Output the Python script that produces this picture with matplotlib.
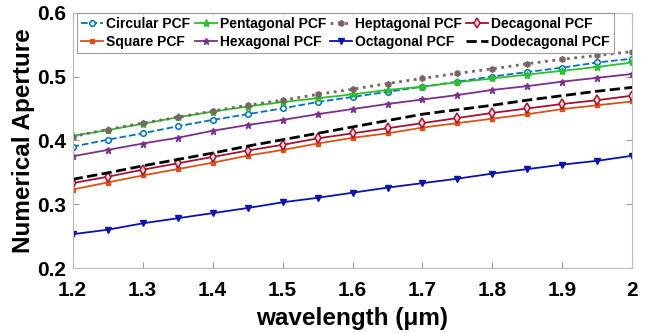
import matplotlib.pyplot as plt
import numpy as np

plt.rcParams["font.family"] = ["Liberation Sans", "DejaVu Sans"]
plt.rcParams["font.weight"] = "bold"

wavelength = np.round(np.arange(1.2, 2.0001, 0.05), 2)

circular = [0.390, 0.401, 0.411, 0.422, 0.432, 0.441, 0.450, 0.460, 0.468,
            0.476, 0.484, 0.492, 0.500, 0.507, 0.514, 0.522, 0.528]
square = [0.323, 0.334, 0.345, 0.355, 0.365, 0.376, 0.385, 0.395, 0.404,
          0.411, 0.420, 0.427, 0.434, 0.441, 0.449, 0.455, 0.461]
pentagonal = [0.407, 0.416, 0.426, 0.436, 0.445, 0.453, 0.460, 0.466, 0.472,
              0.479, 0.484, 0.491, 0.497, 0.503, 0.509, 0.515, 0.522]
hexagonal = [0.375, 0.385, 0.395, 0.404, 0.415, 0.424, 0.432, 0.441, 0.449,
             0.457, 0.464, 0.471, 0.479, 0.485, 0.492, 0.498, 0.504]
heptagonal = [0.406, 0.417, 0.427, 0.436, 0.446, 0.455, 0.463, 0.472, 0.480,
              0.489, 0.497, 0.505, 0.512, 0.520, 0.527, 0.533, 0.539]
octagonal = [0.253, 0.260, 0.270, 0.278, 0.286, 0.294, 0.303, 0.310, 0.318,
             0.326, 0.333, 0.340, 0.348, 0.355, 0.362, 0.368, 0.376]
decagonal = [0.333, 0.343, 0.354, 0.364, 0.374, 0.384, 0.393, 0.403, 0.411,
             0.419, 0.427, 0.435, 0.443, 0.450, 0.457, 0.463, 0.470]
dodecagonal = [0.339, 0.349, 0.360, 0.370, 0.380, 0.391, 0.401, 0.411, 0.421,
               0.431, 0.441, 0.448, 0.455, 0.463, 0.470, 0.477, 0.483]

fig = plt.figure(figsize=(6.48, 3.33), dpi=100)
ax = fig.add_axes([0.112, 0.195, 0.864, 0.767])

ax.plot(wavelength, circular, "--o", color="#0072BD", lw=1.3, ms=4,
        mfc="white", mew=1.1, label="Circular PCF")
ax.plot(wavelength, square, "-s", color="#D95319", lw=1.3, ms=3,
        label="Square PCF")
ax.plot(wavelength, pentagonal, "-*", color="#2EBE2E", lw=1.3, ms=6,
        label="Pentagonal PCF")
ax.plot(wavelength, hexagonal, "-*", color="#7E2F8E", lw=1.3, ms=5,
        label="Hexagonal PCF")
ax.plot(wavelength, heptagonal, ":h", color="#7A6464", lw=2.0, ms=4,
        label="Heptagonal PCF")
ax.plot(wavelength, octagonal, "-v", color="#0A14A8", lw=1.3, ms=4.5,
        label="Octagonal PCF")
ax.plot(wavelength, decagonal, "-d", color="#A2142F", lw=1.3, ms=5,
        mfc="#F0D0D8", mew=1.1, label="Decagonal PCF")
ax.plot(wavelength, dodecagonal, "--", color="black", lw=2.0,
        label="Dodecagonal PCF")

ax.set_xlim(1.2, 2.0)
ax.set_ylim(0.2, 0.6)
ax.set_xticks(np.arange(1.2, 2.01, 0.1))
ax.set_xticklabels(["1.2", "1.3", "1.4", "1.5", "1.6", "1.7", "1.8", "1.9", "2"])
ax.set_yticks([0.2, 0.3, 0.4, 0.5, 0.6])
ax.tick_params(direction="in", top=True, right=True, labelsize=15,
               color="#999999", length=4)
ax.tick_params(axis="x", pad=9)
ax.tick_params(axis="y", pad=5)
for s in ax.spines.values():
    s.set_color("#BBBBBB")

ax.set_xlabel("wavelength (\u03bcm)", fontsize=17.5, fontweight="bold",
              labelpad=5)
ax.set_ylabel("Numerical Aperture", fontsize=17.5, fontweight="bold",
              labelpad=1)

leg = ax.legend(ncol=4, loc="upper left", bbox_to_anchor=(0.008, 1.0),
                fontsize=10, frameon=True, fancybox=False, edgecolor="#888888",
                handlelength=1.6, handletextpad=0.2, columnspacing=0.3,
                labelspacing=0.3, borderpad=0.3, borderaxespad=0.0)
leg.get_frame().set_linewidth(0.8)
for t in leg.get_texts():
    t.set_fontweight("bold")

fig.savefig("out.png", dpi=100)
